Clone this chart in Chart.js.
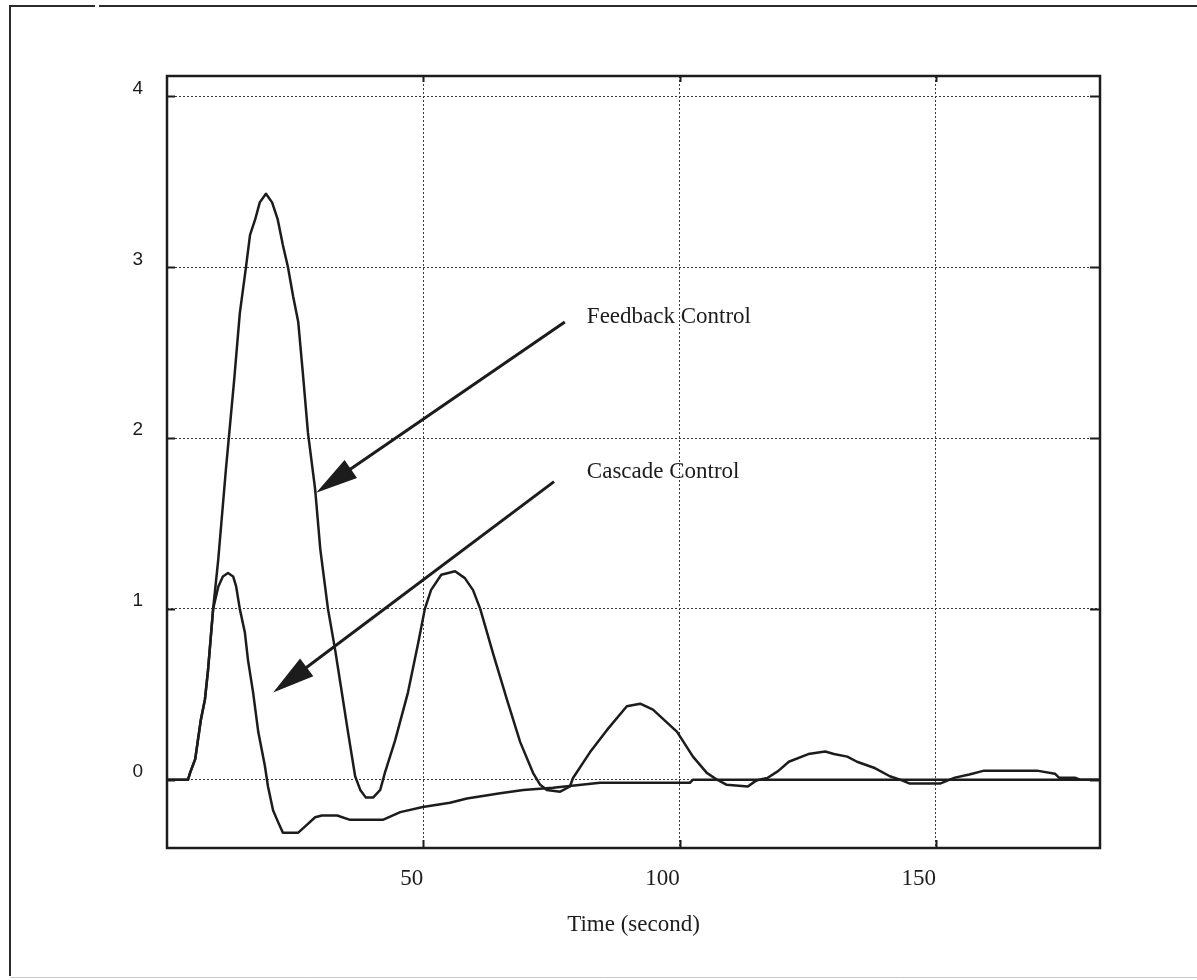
<!DOCTYPE html>
<html>
<head>
<meta charset="utf-8">
<script src="https://cdn.jsdelivr.net/npm/chart.js@4.4.1/dist/chart.umd.min.js"></script>
<style>
html,body{margin:0;padding:0;background:#fff;}
canvas{display:block;}
</style>
</head>
<body>
<canvas id="c" width="1197" height="980"></canvas>
<script>
// ---- data ----
const feedbackTime = [0,4.1,4.5,5.5,6.6,7.4,8.0,9.0,10.0,11.5,13.1,14.2,15.4,16.2,17.2,18.1,19.3,20.5,21.6,22.6,23.6,24.6,25.6,26.5,27.5,28.9,29.9,31.4,32.8,33.9,35.3,36.7,37.7,38.8,40.2,41.6,42.5,44.5,47.0,49.0,50.3,51.5,53.5,56.2,58.1,59.7,61.1,63.6,66.3,68.9,71.4,72.8,74.1,76.7,78.6,79.2,82.5,85.8,89.7,92.3,94.8,99.5,102.6,105.3,107.3,109.2,113.3,114.7,115.5,117.1,119.2,121.3,125.1,128.4,130.1,132.7,134.6,137.9,141.0,143.0,144.9,150.8,152.7,153.7,156.5,159.4,169.7,173.2,174.0,177.1,178.1,182];
const feedbackValue = [0,0,0.04,0.12,0.35,0.47,0.64,1.0,1.29,1.82,2.34,2.73,3.0,3.19,3.28,3.38,3.43,3.38,3.28,3.13,3.0,2.83,2.68,2.38,2.03,1.70,1.35,1.0,0.76,0.55,0.28,0.02,-0.06,-0.105,-0.105,-0.06,0.04,0.23,0.51,0.80,1.0,1.11,1.20,1.22,1.18,1.11,1.0,0.74,0.47,0.22,0.04,-0.03,-0.06,-0.07,-0.04,0.01,0.16,0.29,0.43,0.445,0.41,0.28,0.135,0.04,0,-0.03,-0.04,-0.01,0,0.01,0.05,0.105,0.15,0.165,0.15,0.135,0.105,0.07,0.02,0,-0.023,-0.023,0,0.012,0.03,0.053,0.053,0.035,0.012,0.012,0,0];

const cascadeTime = [0,4.1,4.5,5.5,6.6,7.4,8.0,9.0,10.0,10.9,11.9,12.9,13.5,14.2,15.2,15.8,16.8,17.8,19.1,19.7,20.7,21.7,22.6,25.6,26.9,28.9,30.2,33.2,35.7,42.1,45.5,49.9,55.2,58.5,65.0,69.5,75.3,84.5,92.3,102.0,102.6,182];
const cascadeValue = [0,0,0.04,0.12,0.35,0.47,0.64,1.0,1.13,1.19,1.21,1.19,1.13,1.0,0.86,0.70,0.51,0.28,0.08,-0.04,-0.18,-0.25,-0.31,-0.31,-0.275,-0.22,-0.21,-0.21,-0.235,-0.235,-0.19,-0.16,-0.135,-0.11,-0.08,-0.06,-0.047,-0.018,-0.018,-0.018,0,0];

const xTickValues = [50, 100, 150];
const yTickValues = [0, 1, 2, 3, 4];
const xRange = [0, 182];
const yRange = [-0.4, 4.12];
const xTitle = 'Time (second)';

// annotation labels and arrows (in data units)
const annotationLabels = ['Feedback Control', 'Cascade Control'];
const annotationLabelAt = [[81.9, 2.71], [81.9, 1.80]];
const arrowFrom = [[77.6, 2.68], [75.5, 1.745]];
const arrowTo = [[29.1, 1.68], [20.7, 0.51]];

// ---- build ----
const toPoints = (ts, vs) => ts.map((t, i) => ({x: t, y: vs[i]}));
const INK = '#1c1c1c';
const SERIF = "'Liberation Serif','Times New Roman',serif";
const SANS = "'Liberation Sans',Arial,sans-serif";

function drawArrow(ctx, x1, y1, x2, y2) {
  const ang = Math.atan2(y2 - y1, x2 - x1);
  const L = 42, W = 11;
  const bx = x2 - L * Math.cos(ang), by = y2 - L * Math.sin(ang);
  ctx.beginPath(); ctx.moveTo(x1, y1); ctx.lineTo(bx + 2 * Math.cos(ang), by + 2 * Math.sin(ang)); ctx.stroke();
  ctx.beginPath();
  ctx.moveTo(x2, y2);
  ctx.lineTo(bx + W * Math.sin(ang), by - W * Math.cos(ang));
  ctx.lineTo(bx - W * Math.sin(ang), by + W * Math.cos(ang));
  ctx.closePath(); ctx.fill();
}

const decor = {
  id: 'decor',
  beforeDraw(chart) {
    const ctx = chart.ctx;
    ctx.save();
    ctx.fillStyle = '#fff';
    ctx.fillRect(0, 0, chart.width, chart.height);
    ctx.strokeStyle = '#2a2a2a';
    ctx.lineWidth = 2;
    ctx.beginPath();
    ctx.moveTo(10, 976); ctx.lineTo(10, 6); ctx.lineTo(95, 6);
    ctx.moveTo(99, 6); ctx.lineTo(1197, 6);
    ctx.stroke();
    ctx.strokeStyle = '#c8c8c8';
    ctx.lineWidth = 1;
    ctx.beginPath(); ctx.moveTo(10, 977.5); ctx.lineTo(1197, 977.5); ctx.stroke();
    ctx.restore();
  },
  afterDatasetsDraw(chart) {
    const {ctx, chartArea: a, scales: {x, y}} = chart;
    ctx.save();
    ctx.strokeStyle = INK;
    ctx.lineWidth = 2.5;
    ctx.strokeRect(a.left, a.top, a.right - a.left, a.bottom - a.top);
    ctx.lineWidth = 2;
    ctx.beginPath();
    yTickValues.forEach(v => {
      const p = Math.round(y.getPixelForValue(v)) + 0.5;
      ctx.moveTo(a.left, p); ctx.lineTo(a.left + 8, p);
      ctx.moveTo(a.right, p); ctx.lineTo(a.right - 10, p);
    });
    xTickValues.forEach(v => {
      const p = Math.round(x.getPixelForValue(v)) + 0.5;
      ctx.moveTo(p, a.bottom); ctx.lineTo(p, a.bottom - 8);
      ctx.moveTo(p, a.top); ctx.lineTo(p, a.top + 6);
    });
    ctx.stroke();

    ctx.fillStyle = INK;
    ctx.strokeStyle = INK;
    ctx.lineWidth = 3;
    arrowFrom.forEach((f, i) => {
      const t = arrowTo[i];
      drawArrow(ctx, x.getPixelForValue(f[0]), y.getPixelForValue(f[1]),
                     x.getPixelForValue(t[0]), y.getPixelForValue(t[1]));
    });
    ctx.font = '23px ' + SERIF;
    ctx.textAlign = 'left';
    ctx.textBaseline = 'middle';
    annotationLabels.forEach((txt, i) => {
      const p = annotationLabelAt[i];
      ctx.fillText(txt, x.getPixelForValue(p[0]), y.getPixelForValue(p[1]));
    });
    ctx.restore();
  }
};

new Chart(document.getElementById('c'), {
  type: 'line',
  data: {
    datasets: [
      {label: 'Feedback Control', data: toPoints(feedbackTime, feedbackValue)},
      {label: 'Cascade Control', data: toPoints(cascadeTime, cascadeValue)}
    ]
  },
  options: {
    responsive: false,
    animation: false,
    events: [],
    layout: {padding: {left: 0, top: 76, right: 97, bottom: 0}},
    elements: {
      line: {borderColor: INK, borderWidth: 2.5, tension: 0, fill: false, borderJoinStyle: 'round'},
      point: {radius: 0}
    },
    plugins: {legend: {display: false}, tooltip: {enabled: false}},
    scales: {
      x: {
        type: 'linear',
        min: xRange[0], max: xRange[1],
        afterBuildTicks: s => { s.ticks = xTickValues.map(v => ({value: v})); },
        afterFit: s => { s.height = 132; },
        grid: {color: '#3a3a3a', lineWidth: 1, drawTicks: false},
        border: {display: false, dash: [2, 2]},
        ticks: {
          align: 'end', padding: 17, color: INK, maxRotation: 0,
          font: {family: SERIF, size: 23},
          callback: v => String(v)
        },
        title: {
          display: true, text: xTitle, color: INK,
          font: {family: SERIF, size: 23},
          padding: {top: 0, bottom: 41}
        }
      },
      y: {
        type: 'linear',
        min: yRange[0], max: yRange[1],
        afterBuildTicks: s => { s.ticks = yTickValues.map(v => ({value: v})); },
        afterFit: s => { s.width = 167; },
        grid: {color: '#3a3a3a', lineWidth: 1, drawTicks: false},
        border: {display: false, dash: [2, 2]},
        ticks: {
          padding: 24, labelOffset: -8, color: INK,
          font: {family: SANS, size: 19},
          callback: v => String(v)
        }
      }
    }
  },
  plugins: [decor]
});
</script>
</body>
</html>
